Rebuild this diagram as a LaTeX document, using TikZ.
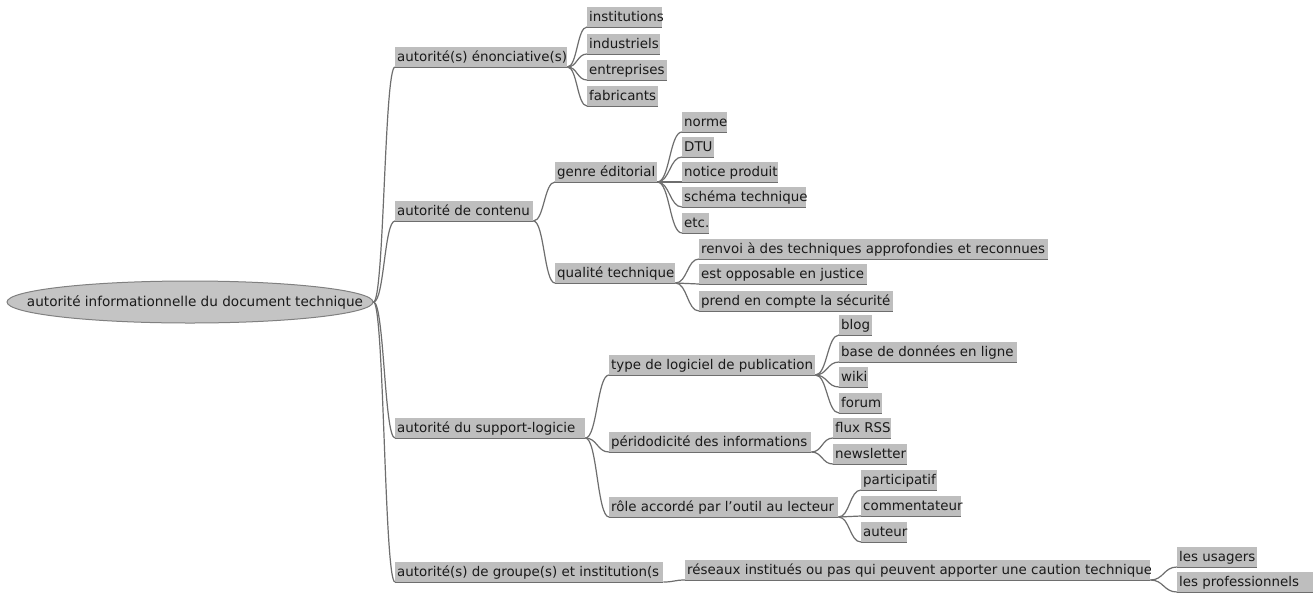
\documentclass[tikz,border=0pt]{standalone}
\usepackage{fontspec}
\setmainfont{DejaVu Sans}
\usetikzlibrary{shapes.geometric,calc}
\definecolor{boxgray}{HTML}{BEBEBE}
\definecolor{linegray}{HTML}{6E6E6E}
\definecolor{txt}{HTML}{1A1A1A}
\definecolor{rootfill}{HTML}{C4C4C4}
\definecolor{rootdraw}{HTML}{808080}
\tikzset{
  mbox/.style={fill=boxgray, text=txt, inner xsep=2pt, inner ysep=1.5pt,
    text height=13.5pt, text depth=3.5pt, anchor=south west,
    font=\fontsize{13.4}{15}\selectfont},
  uline/.style={draw=linegray, line width=0.8pt},
  conn/.style={draw=linegray, line width=1.2pt},
  rootshape/.style={ellipse, fill=rootfill, draw=rootdraw, line width=1pt,
    minimum width=366pt, minimum height=42pt, inner sep=0pt},
  roottext/.style={text=txt, inner sep=0pt, font=\fontsize{13.6}{15}\selectfont}
}
\newcommand{\mnode}[5]{%
  \node[mbox, minimum width=#4pt] (#1) at (#2,#3) {\makebox[\dimexpr#4pt-4pt\relax][l]{#5}};
  \draw[uline] (#1.south west) -- (#1.south east);}
\newcommand{\mnodeclip}[5]{%
  \begin{scope}\clip (#2,#3+1) rectangle ++(#4,-22);
  \node[mbox, minimum width=#4pt] (#1) at (#2,#3) {\makebox[\dimexpr#4pt-4pt\relax][l]{#5}};
  \end{scope}
  \draw[uline] (#1.south west) -- (#1.south east);}
\newcommand{\conn}[2]{%
  \draw[conn] let \p1=(#1.south east), \p2=(#2.south west) in
    (\p1) .. controls ({(\x1+\x2)/2},\y1) and ({(\x1+\x2)/2},\y2) .. (\p2);}
\newcommand{\rconn}[1]{%
  \draw[conn] let \p1=(root.east), \p2=(#1.south west) in
    (\p1) .. controls ({(\x1+\x2)/2},\y1) and ({(\x1+\x2)/2},\y2) .. (\p2);}
\begin{document}
\begin{tikzpicture}[x=1pt,y=-1pt]
\useasboundingbox (0,0) rectangle (1313,592);
\fill[white] (0,0) rectangle (1313,592);
% root
\node[rootshape] (root) at (190,302) {};
\node[roottext] (roottext) at (195,302) {autorité informationnelle du document technique};
% level 1
\mnode{a1}{395}{67}{172}{autorité(s) énonciative(s)}
\mnode{a2}{395}{221}{138}{autorité de contenu}
\mnode{a3}{395}{438}{190}{autorité du support-logicie}
\mnode{a4}{395}{582}{268}{autorité(s) de groupe(s) et institution(s}
% under a1
\mnodeclip{b1}{587}{27}{75}{institutions}
\mnode{b2}{587}{54}{73}{industriels}
\mnode{b3}{587}{80}{80}{entreprises}
\mnode{b4}{587}{106}{71}{fabricants}
% under a2
\mnode{c1}{555}{182}{102}{genre éditorial}
\mnode{c2}{555}{283}{120}{qualité technique}
\mnode{d1}{682}{132}{45}{norme}
\mnode{d2}{682}{157}{32}{DTU}
\mnode{d3}{682}{182}{96}{notice produit}
\mnode{d4}{682}{207}{124}{schéma technique}
\mnode{d5}{682}{233}{27}{etc.}
\mnode{e1}{699}{259}{349}{renvoi à des techniques approfondies et reconnues}
\mnode{e2}{699}{284}{168}{est opposable en justice}
\mnode{e3}{699}{311}{194}{prend en compte la sécurité}
% under a3
\mnode{f1}{609}{375}{206}{type de logiciel de publication}
\mnode{f2}{609}{452}{202}{péridodicité des informations}
\mnode{f3}{609}{517}{229}{rôle accordé par l'outil au lecteur}
\mnode{g1}{839}{335}{33}{blog}
\mnode{g2}{839}{362}{178}{base de données en ligne}
\mnode{g3}{839}{387}{29}{wiki}
\mnode{g4}{839}{413}{43}{forum}
\mnode{h1}{833}{438}{58}{flux RSS}
\mnode{h2}{833}{464}{74}{newsletter}
\mnode{i1}{861}{490}{76}{participatif}
\mnode{i2}{861}{516}{100}{commentateur}
\mnode{i3}{861}{542}{46}{auteur}
% under a4
\mnodeclip{j1}{685}{580}{465}{réseaux institués ou pas qui peuvent apporter une caution technique}
\mnode{k1}{1177}{567}{80}{les usagers}
\mnode{k2}{1177}{592}{136}{les professionnels}
% connectors
\foreach \c in {a1,a2,a3,a4} {\rconn{\c}}
\foreach \c in {b1,b2,b3,b4} {\conn{a1}{\c}}
\foreach \c in {c1,c2} {\conn{a2}{\c}}
\foreach \c in {d1,d2,d3,d4,d5} {\conn{c1}{\c}}
\foreach \c in {e1,e2,e3} {\conn{c2}{\c}}
\foreach \c in {f1,f2,f3} {\conn{a3}{\c}}
\foreach \c in {g1,g2,g3,g4} {\conn{f1}{\c}}
\foreach \c in {h1,h2} {\conn{f2}{\c}}
\foreach \c in {i1,i2,i3} {\conn{f3}{\c}}
\conn{a4}{j1}
\foreach \c in {k1,k2} {\conn{j1}{\c}}
\end{tikzpicture}
\end{document}
